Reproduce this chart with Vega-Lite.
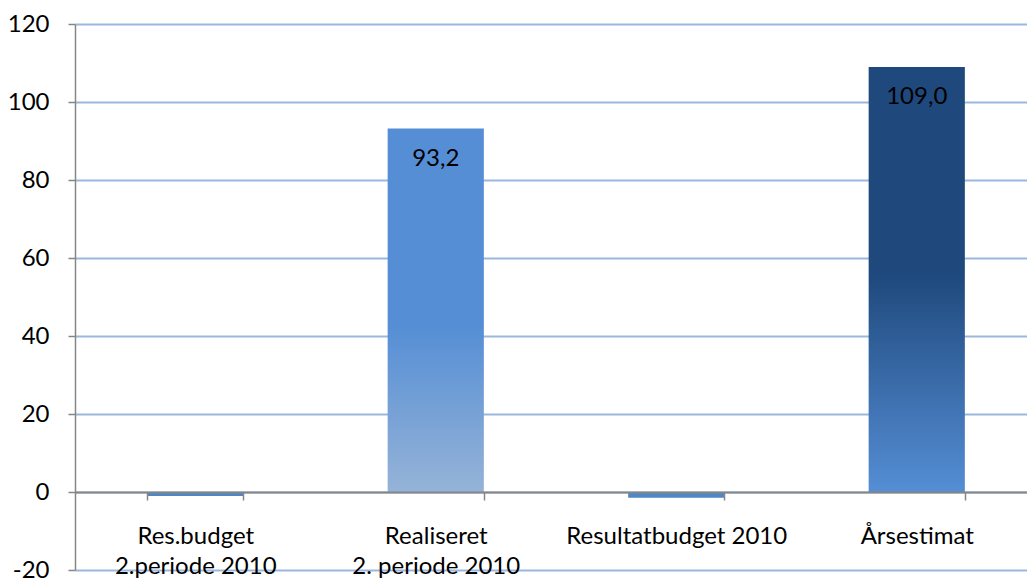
{
  "$schema": "https://vega.github.io/schema/vega-lite/v6.json",
  "width": 962,
  "height": 546,
  "autosize": "none",
  "padding": {"left": 75, "top": 24, "right": 0, "bottom": 9},
  "background": "white",
  "config": {
    "view": {"stroke": null},
    "locale": {
      "number": {"decimal": ",", "thousands": ".", "grouping": [3], "currency": ["", " kr."], "minus": "-"}
    }
  },
  "data": {
    "values": [
      {"kategori": "Res.budget 2.periode 2010", "verdi": -1.0},
      {"kategori": "Realiseret 2. periode 2010", "verdi": 93.2},
      {"kategori": "Resultatbudget 2010", "verdi": -1.5},
      {"kategori": "Årsestimat", "verdi": 109.0}
    ]
  },
  "encoding": {
    "x": {
      "field": "kategori",
      "type": "nominal",
      "sort": null,
      "scale": {"paddingInner": 0.6, "paddingOuter": 0.3},
      "axis": {
        "title": null,
        "orient": "bottom",
        "offset": -78,
        "domainColor": "#868686",
        "domainWidth": 2,
        "tickColor": "#868686",
        "tickSize": 8,
        "tickWidth": 1.5,
        "tickBand": "extent",
        "labelFont": "Lato",
        "labelFontSize": 24,
        "labelColor": "#000000",
        "labelPadding": 24,
        "labelLineHeight": 30,
        "labelAngle": 0,
        "labelLimit": 0,
        "labelExpr": "datum.label === 'Res.budget 2.periode 2010' ? ['Res.budget', '2.periode 2010'] : datum.label === 'Realiseret 2. periode 2010' ? ['Realiseret', '2. periode 2010'] : datum.label",
        "zindex": 1
      }
    },
    "y": {
      "field": "verdi",
      "type": "quantitative",
      "scale": {"domain": [-20, 120], "nice": false, "zero": false},
      "axis": {
        "title": null,
        "values": [-20, 0, 20, 40, 60, 80, 100, 120],
        "grid": true,
        "gridColor": "#9bb7e0",
        "gridWidth": 2,
        "domainColor": "#868686",
        "domainWidth": 1.5,
        "tickColor": "#868686",
        "tickSize": 7,
        "tickWidth": 1.5,
        "labelFont": "Lato",
        "labelFontSize": 24,
        "labelColor": "#000000",
        "labelPadding": 19,
        "labelFlush": false,
        "labelOverlap": false
      }
    }
  },
  "layer": [
    {
      "mark": {"type": "bar"},
      "encoding": {
        "color": {
          "condition": [
            {
              "test": "datum.kategori === 'Realiseret 2. periode 2010'",
              "value": {
                "gradient": "linear", "x1": 0, "y1": 0, "x2": 0, "y2": 1,
                "stops": [
                  {"offset": 0, "color": "#558ed5"},
                  {"offset": 0.54, "color": "#558ed5"},
                  {"offset": 1, "color": "#95b3d7"}
                ]
              }
            },
            {
              "test": "datum.kategori === 'Årsestimat'",
              "value": {
                "gradient": "linear", "x1": 0, "y1": 0, "x2": 0, "y2": 1,
                "stops": [
                  {"offset": 0, "color": "#1f497d"},
                  {"offset": 0.49, "color": "#1f497d"},
                  {"offset": 1, "color": "#558ed5"}
                ]
              }
            }
          ],
          "value": "#4e86c8"
        }
      }
    },
    {
      "transform": [{"filter": "datum.verdi > 0"}],
      "mark": {"type": "text", "baseline": "top", "dy": 18, "font": "Lato", "fontSize": 24, "color": "#000000"},
      "encoding": {
        "text": {"field": "verdi", "type": "quantitative", "format": ".1f"}
      }
    }
  ]
}
